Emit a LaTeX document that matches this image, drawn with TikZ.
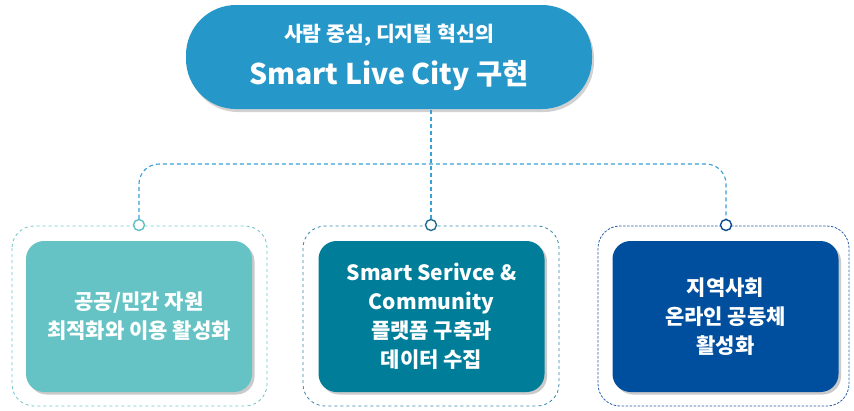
\documentclass[tikz,border=0pt]{standalone}
\usepackage{fontspec}
\setmainfont{Noto Sans CJK KR}
\usetikzlibrary{shadows,calc}
\definecolor{topblue}{HTML}{2597C9}
\definecolor{linkblue}{HTML}{3AA0D5}
\definecolor{boxA}{HTML}{66C3C5}
\definecolor{boxB}{HTML}{007E99}
\definecolor{boxC}{HTML}{004F9F}
\definecolor{dashA}{HTML}{6CC5C8}
\definecolor{dashB}{HTML}{3288AB}
\definecolor{dashC}{HTML}{2A5FA6}
\definecolor{ringA}{HTML}{5FBFC2}
\definecolor{ringB}{HTML}{1F6E8E}
\definecolor{ringC}{HTML}{0B4A92}
\tikzset{
  x=1pt, y=-1pt,
  card/.style={rounded corners=18pt, minimum width=226pt, minimum height=151pt,
    text=white, align=center, font=\bfseries\fontsize{21}{29}\selectfont,
    drop shadow={shadow xshift=2.5pt, shadow yshift=-2.5pt, opacity=0.35, fill=black!60}},
  frame/.style={draw, dashed, line width=0.8pt, rounded corners=22pt},
  ring/.style={circle, draw, fill=white, line width=1.4pt, minimum size=11pt, inner sep=0pt},
  link/.style={draw=linkblue, line width=1.1pt, dash pattern=on 4pt off 3pt},
}
\begin{document}
\begin{tikzpicture}
\useasboundingbox (0,0) rectangle (854,410);
% top node
\node[rounded corners=50pt, fill=topblue, minimum width=406pt, minimum height=104pt,
  drop shadow={shadow xshift=2pt, shadow yshift=-3pt, opacity=0.3, fill=black!60},
  text=white, align=center] (top) at (389,57)
  {{\fontsize{20.5}{22}\selectfont\bfseries 사람 중심, 디지털 혁신의}\\[13pt]
   {\fontsize{28.5}{30}\selectfont\bfseries Smart Live City 구현}};
% frames
\draw[frame, draw=dashA] (12,226) rectangle (267,406);
\draw[frame, draw=dashB] (303,226) rectangle (559,406);
\draw[frame, draw=dashC, dash pattern=on 2.5pt off 1.5pt] (598,226) rectangle (849,406);
% cards
\node[card, fill=boxA] (a) at (139,316.5) {공공/민간 자원\\최적화와 이용 활성화};
\node[card, fill=boxB] (b) at (431.5,316.5) {Smart Serivce \&\\Community\\플랫폼 구축과\\데이터 수집};
\node[card, fill=boxC] (c) at (725.5,316.5) {지역사회\\온라인 공동체\\활성화};
% connectors
\coordinate (bus) at (431,164);
\node[ring, draw=ringA] (ra) at (139,225) {};
\node[ring, draw=ringB] (rb) at (431,225) {};
\node[ring, draw=ringC] (rc) at (726,225) {};
\draw[link] (rb.north) -- (rb |- top.south);
\draw[link, rounded corners=20pt] (ra.north) -- (ra |- bus) -- (rc |- bus) -- (rc.north);
\end{tikzpicture}
\end{document}
